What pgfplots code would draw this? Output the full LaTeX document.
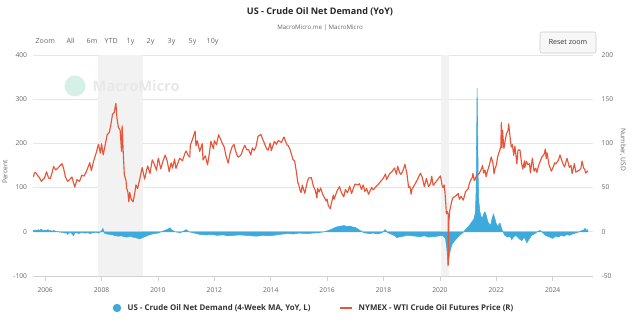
\documentclass[border=0pt]{standalone}
\usepackage{pgfplots}
\pgfplotsset{compat=1.18}
\usepackage{fontspec}
\setmainfont{Open Sans}
\definecolor{redline}{RGB}{232,84,56}
\definecolor{blueA}{RGB}{62,170,220}
\definecolor{gridc}{RGB}{230,230,230}
\definecolor{labc}{RGB}{102,102,102}
\definecolor{shadec}{RGB}{242,242,242}
\definecolor{wmc}{RGB}{214,240,232}
\definecolor{wmt}{RGB}{232,232,232}
\pgfplotstableread{
x y
2005.58 3
2005.65 4
2005.70 2
2005.75 5
2005.80 3
2005.85 6
2005.90 4
2005.95 2
2006.00 4
2006.05 3
2006.10 5
2006.15 2
2006.20 3
2006.25 1
2006.30 3
2006.35 2
2006.40 0
2006.45 1
2006.50 -1
2006.55 0
2006.60 -2
2006.65 -1
2006.70 -3
2006.75 -2
2006.80 -6
2006.85 -3
2006.90 -1
2006.95 -4
2007.00 -9
2007.05 -3
2007.10 -2
2007.20 -4
2007.30 -1
2007.40 -3
2007.50 -2
2007.60 -4
2007.70 -2
2007.80 -1
2007.90 -3
2008.00 2
2008.05 8
2008.10 -3
2008.20 -5
2008.30 -6
2008.40 -7
2008.50 -9
2008.60 -10
2008.70 -9
2008.80 -11
2008.90 -12
2009.00 -10
2009.10 -12
2009.20 -13
2009.35 -16
2009.50 -12
2009.65 -8
2009.80 -5
2010.00 -3
2010.20 2
2010.35 6
2010.43 9
2010.50 4
2010.60 0
2010.80 -2
2010.95 3
2011.00 5
2011.10 0
2011.30 -3
2011.50 -6
2011.70 -7
2011.90 -6
2012.10 -8
2012.30 -7
2012.50 -9
2012.70 -8
2012.90 -7
2013.10 -8
2013.30 -9
2013.50 -10
2013.70 -8
2013.90 -9
2014.10 -8
2014.30 -6
2014.60 -4
2014.80 -5
2015.00 -3
2015.30 -4
2015.50 -3
2015.70 -2
2015.90 0
2016.05 3
2016.17 6
2016.30 10
2016.40 12
2016.50 13
2016.60 14
2016.70 12
2016.80 13
2016.90 11
2017.00 10
2017.10 6
2017.17 3
2017.30 -2
2017.50 -4
2017.65 -3
2017.80 -5
2017.95 -2
2018.06 5
2018.15 -2
2018.30 -6
2018.40 -9
2018.47 -13
2018.60 -11
2018.70 -10
2018.85 -8
2019.00 -9
2019.15 -10
2019.30 -11
2019.45 -9
2019.60 -12
2019.75 -11
2019.90 -10
2020.00 -9
2020.10 -8
2020.20 -15
2020.25 -40
2020.28 -75
2020.32 -60
2020.36 -45
2020.42 -30
2020.50 -22
2020.60 -15
2020.70 -8
2020.80 -3
2020.87 2
2020.95 8
2021.05 15
2021.13 22
2021.20 28
2021.25 40
2021.28 80
2021.30 200
2021.32 325
2021.34 230
2021.36 120
2021.38 70
2021.42 45
2021.46 35
2021.50 30
2021.55 40
2021.60 45
2021.64 38
2021.68 28
2021.72 20
2021.80 15
2021.85 30
2021.90 40
2021.95 30
2022.00 18
2022.05 12
2022.13 20
2022.20 5
2022.24 0
2022.30 -8
2022.40 -12
2022.49 -10
2022.55 -18
2022.60 -12
2022.70 -8
2022.80 -15
2022.90 -20
2023.00 -12
2023.08 -25
2023.15 -18
2023.25 -8
2023.35 -5
2023.45 0
2023.55 3
2023.65 -2
2023.75 -8
2023.90 -12
2024.00 -15
2024.10 -10
2024.20 -12
2024.30 -8
2024.40 -10
2024.50 -6
2024.60 -8
2024.70 -5
2024.80 -3
2024.90 -1
2025.00 2
2025.10 4
2025.15 8
2025.20 3
2025.25 5
}\demand
\pgfplotstableread{
x y
2005.58 62
2005.62 66.5
2005.66 67
2005.71 65
2005.75 63
2005.80 61
2005.87 57
2005.92 59.5
2005.97 60
2006.05 68
2006.12 61
2006.18 60
2006.24 66
2006.30 74
2006.37 70
2006.45 72
2006.55 75.5
2006.60 77
2006.66 71
2006.72 62
2006.80 57
2006.88 59.5
2006.95 62
2007.05 50.5
2007.13 59
2007.22 57
2007.30 64
2007.38 63
2007.46 68
2007.57 77
2007.58 78.2
2007.64 69.3
2007.72 80
2007.80 88
2007.89 99
2007.96 89
2008.00 99.6
2008.06 87
2008.13 98
2008.20 110
2008.27 112
2008.32 119
2008.39 133
2008.45 135
2008.51 145.3
2008.55 128
2008.60 118
2008.66 115
2008.71 91
2008.73 120
2008.77 90
2008.81 64
2008.87 58
2008.89 49
2008.93 46
2008.97 33.9
2009.00 44.6
2009.05 37
2009.12 34
2009.17 42
2009.22 53
2009.28 49
2009.36 60
2009.44 72.7
2009.53 59.5
2009.60 70
2009.64 74.4
2009.72 66
2009.80 81.4
2009.88 76
2009.95 69.5
2010.00 81
2010.02 83.2
2010.10 71.2
2010.18 80
2010.26 86.8
2010.33 80
2010.40 68
2010.47 78
2010.52 72
2010.59 82.5
2010.64 71.6
2010.77 83.2
2010.87 80.4
2010.96 89
2011.00 91.4
2011.08 86
2011.13 84.6
2011.15 98
2011.22 104
2011.32 113.9
2011.35 97.2
2011.40 103
2011.48 91
2011.57 99.6
2011.60 81.3
2011.68 86
2011.76 75.7
2011.82 88
2011.88 102.6
2011.97 93.9
2012.00 103
2012.08 98.5
2012.15 109.8
2012.22 105
2012.27 101
2012.35 96
2012.41 86.5
2012.49 77.7
2012.56 89
2012.63 96
2012.70 99
2012.75 92
2012.82 85.5
2012.85 84.4
2012.95 87
2013.00 92
2013.08 97.9
2013.15 92.6
2013.22 93
2013.29 86.7
2013.35 95
2013.41 92
2013.47 95
2013.55 108
2013.65 110.1
2013.74 102.9
2013.85 94.2
2013.91 92.3
2013.98 100.3
2014.02 91.7
2014.13 102.4
2014.20 99
2014.27 103.4
2014.38 101
2014.47 107.3
2014.58 98.2
2014.62 97.6
2014.69 92.7
2014.79 81.8
2014.85 80
2014.91 68
2014.96 55.9
2014.99 53.3
2015.05 46
2015.08 44.5
2015.12 52.8
2015.21 43.5
2015.30 57
2015.35 60.9
2015.44 61.4
2015.52 51
2015.58 47.1
2015.64 38.2
2015.66 49.2
2015.72 45
2015.77 49.6
2015.85 42
2015.97 34.7
2016.00 37
2016.04 30
2016.11 26.2
2016.22 41.5
2016.25 36.8
2016.35 46
2016.44 51.2
2016.50 45
2016.59 39.5
2016.65 48
2016.72 44
2016.80 51.6
2016.87 43.3
2016.95 51
2016.99 54
2017.10 53
2017.15 54.4
2017.22 47.7
2017.28 53.1
2017.34 45.5
2017.40 49
2017.47 42.5
2017.58 50.2
2017.64 47.4
2017.75 51.7
2017.82 53.9
2017.91 57.4
2017.99 60.4
2018.07 65.5
2018.11 59.2
2018.22 65.9
2018.30 68
2018.39 72.2
2018.46 65
2018.50 74.1
2018.58 66.5
2018.62 65
2018.69 69
2018.76 76.4
2018.83 66
2018.89 50.4
2018.94 51
2018.98 42.5
2019.01 47.9
2019.08 52
2019.12 54
2019.20 59
2019.31 66.3
2019.37 62
2019.45 51.1
2019.52 60.4
2019.60 51.1
2019.67 55
2019.71 62.9
2019.76 52.6
2019.85 56
2019.89 57.8
2019.96 61
2020.02 63.3
2020.08 52
2020.11 50
2020.15 53
2020.18 45
2020.21 31
2020.23 20.4
2020.26 23
2020.29 20
2020.30 -37.6
2020.32 12.3
2020.35 24
2020.41 33
2020.45 38
2020.50 39.3
2020.58 41
2020.65 43.4
2020.69 36.8
2020.75 40
2020.83 35.8
2020.91 45.5
2021.00 48.5
2021.04 53.9
2021.10 59
2021.15 61.5
2021.17 66.1
2021.22 57.8
2021.30 63
2021.32 63.9
2021.40 66.3
2021.47 71
2021.50 73.5
2021.51 75.2
2021.55 66.4
2021.60 70
2021.64 62.3
2021.70 70
2021.75 75
2021.82 84.6
2021.88 78
2021.92 65.6
2021.96 72
2022.00 75.2
2022.05 85
2022.08 88.2
2022.12 92
2022.16 95.7
2022.18 123.7
2022.20 95
2022.22 114.9
2022.27 94.3
2022.32 104
2022.36 110.5
2022.42 115
2022.44 122.1
2022.50 104
2022.53 95.8
2022.57 98.6
2022.62 86.5
2022.66 97
2022.73 76.7
2022.77 92.6
2022.84 92.6
2022.90 77
2022.94 71
2023.00 80.3
2023.01 72.8
2023.07 79.7
2023.12 76
2023.18 77
2023.21 66.7
2023.28 83.3
2023.34 68.6
2023.40 72
2023.44 67.1
2023.50 75
2023.57 80.6
2023.61 84.4
2023.70 88
2023.74 93.7
2023.77 82.8
2023.80 89.4
2023.87 76
2023.95 68.6
2024.00 71.7
2024.07 78
2024.11 76.8
2024.20 81
2024.26 86.9
2024.35 78
2024.42 73.3
2024.51 83.2
2024.59 72.9
2024.65 75
2024.69 65.8
2024.77 77.1
2024.82 67.4
2024.90 69
2024.96 70
2025.00 71.7
2025.04 80
2025.10 72
2025.14 70.4
2025.17 66.3
2025.22 68
2025.25 69
}\wti
\begin{document}
\begin{tikzpicture}
\pgfplotsset{
  common/.style={
    at={(24.75pt,34.5pt)}, anchor=south west,
    scale only axis, width=420pt, height=165.75pt,
    xmin=2005.57, xmax=2025.43,
    tick label style={font=\fontsize{5}{6}\selectfont, text=labc},
    /pgf/number format/assume math mode=true,
  }
}
\begin{axis}[common,
  ymin=-100, ymax=400, ytick={-100,0,...,400},
  axis y line*=left, axis x line*=bottom,
  y axis line style={draw=none}, ytick style={draw=none},
  x axis line style={draw=gridc!80!gray, line width=0.5pt},
  xtick={2006,2008,...,2024}, xtick align=outside,
  major tick length=3.5pt,
  xtick style={draw=gridc!80!gray, line width=0.5pt},
  xticklabel style={yshift=-2pt},
  x tick label style={/pgf/number format/1000 sep={}},
  ymajorgrids, grid style={gridc, line width=0.5pt},
  yticklabel style={xshift=-1pt},
  clip=true,
]
\fill[shadec] (axis cs:2007.88,-100) rectangle (axis cs:2009.48,400);
\fill[shadec] (axis cs:2020.05,-100) rectangle (axis cs:2020.32,400);
\addplot[draw=blueA, line width=0.4pt, fill=blueA] table[x=x,y=y]{\demand} \closedcycle;
\end{axis}
\begin{axis}[common,
  ymin=-50, ymax=200, ytick={-50,0,...,200},
  axis y line*=right, axis x line=none,
  y axis line style={draw=none}, ytick style={draw=none},
  yticklabel style={xshift=3pt},
]
\addplot[draw=redline, line width=0.85pt, line join=round] table[x=x,y=y]{\wti};
\end{axis}
\begin{scope}[x=0.75pt,y=-0.75pt,yshift=241.5pt]
\path[use as bounding box] (0,0) rectangle (640,322);
% watermark
\fill[wmc] (75,86) circle (10.5);
\node[anchor=west, text=wmt, font=\fontsize{11}{12}\selectfont\bfseries] at (88,86) {MacroMicro};
% titles
\node[font=\fontsize{6.8}{8}\selectfont\bfseries, text=black!85] at (320,12) {US - Crude Oil Net Demand (YoY)};
\node[font=\fontsize{4.6}{6}\selectfont, text=labc] at (320,28) {MacroMicro.me | MacroMicro};
% range selector
\begin{scope}[every node/.style={font=\fontsize{5.3}{6}\selectfont, text=labc, anchor=base west}]
\node at (31,44) {Zoom};
\node at (62,44) {All};
\node at (82,44) {6m};
\node at (100,44) {YTD};
\node at (122,44) {1y};
\node at (142,44) {2y};
\node at (163,44) {3y};
\node at (184,44) {5y};
\node at (202,44) {10y};
\end{scope}
\draw[draw=black!20, fill=black!3, rounded corners=1.5pt] (540,32) rectangle (596,53);
\node[font=\fontsize{5.3}{6}\selectfont, text=black!80] at (568,42.5) {Reset zoom};
% axis titles
\node[rotate=90, font=\fontsize{5}{6}\selectfont, text=labc] at (5,172) {Percent};
\node[rotate=-90, font=\fontsize{5}{6}\selectfont, text=labc] at (623,150) {Number, USD};
% legend
\fill[blueA] (117,308) circle (4.2);
\node[anchor=west, font=\fontsize{5.9}{7}\selectfont\bfseries, text=black!80] at (123,308) {US - Crude Oil Net Demand (4-Week MA, YoY, L)};
\draw[redline, line width=1pt] (340,308) -- (352,308);
\node[anchor=west, font=\fontsize{5.9}{7}\selectfont\bfseries, text=black!80] at (354,308) {NYMEX - WTI Crude Oil Futures Price (R)};
\end{scope}
\end{tikzpicture}
\end{document}
